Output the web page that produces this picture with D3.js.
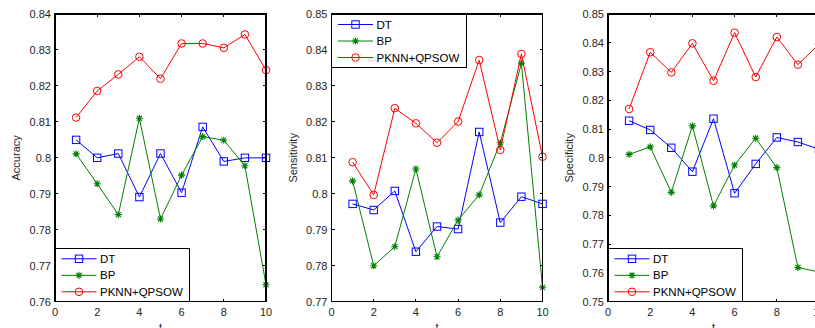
<!DOCTYPE html>
<html>
<head>
<meta charset="utf-8">
<script src="https://cdn.jsdelivr.net/npm/d3@7"></script>
<style>
  html, body { margin: 0; padding: 0; background: #fff; }
  svg { display: block; font-family: "Liberation Sans", Arial, Helvetica, sans-serif; }
</style>
</head>
<body>
<svg id="chart" width="815" height="328"></svg>
<script>
// run index t = 1..10
const runs = [1, 2, 3, 4, 5, 6, 7, 8, 9, 10];
const xTicks = [0, 2, 4, 6, 8, 10];
const seriesNames = ['DT', 'BP', 'PKNN+QPSOW'];

// Accuracy
const accDT   = [0.8050, 0.8000, 0.8012, 0.7891, 0.8012, 0.7903, 0.8086, 0.7990, 0.8000, 0.8000];
const accBP   = [0.8011, 0.7928, 0.7842, 0.8110, 0.7830, 0.7952, 0.8059, 0.8049, 0.7978, 0.7647];
const accPKNN = [0.8112, 0.8186, 0.8232, 0.8281, 0.8220, 0.8318, 0.8318, 0.8306, 0.8343, 0.8244];

// Sensitivity
const senDT   = [0.7972, 0.7955, 0.8008, 0.7839, 0.7909, 0.7902, 0.8172, 0.7920, 0.7992, 0.7972];
const senBP   = [0.8036, 0.7800, 0.7853, 0.8069, 0.7825, 0.7927, 0.7997, 0.8142, 0.8363, 0.7740];
const senPKNN = [0.8088, 0.7997, 0.8238, 0.8196, 0.8142, 0.8201, 0.8372, 0.8122, 0.8389, 0.8103];

// Specificity
const speDT   = [0.8129, 0.8097, 0.8035, 0.7952, 0.8136, 0.7877, 0.7979, 0.8071, 0.8055, 0.8030];
const speBP   = [0.8012, 0.8038, 0.7880, 0.8111, 0.7833, 0.7975, 0.8068, 0.7966, 0.7619, 0.7603];
const spePKNN = [0.8170, 0.8367, 0.8297, 0.8398, 0.8268, 0.8435, 0.8281, 0.8420, 0.8324, 0.8395];

const accTicks = [0.76, 0.77, 0.78, 0.79, 0.8, 0.81, 0.82, 0.83, 0.84];
const senTicks = [0.77, 0.78, 0.79, 0.8, 0.81, 0.82, 0.83, 0.84, 0.85];
const speTicks = [0.75, 0.76, 0.77, 0.78, 0.79, 0.8, 0.81, 0.82, 0.83, 0.84, 0.85];

const colors = { DT: '#0000ff', BP: '#008000', 'PKNN+QPSOW': '#ff0000' };
const markers = { DT: 'square', BP: 'asterisk', 'PKNN+QPSOW': 'circle' };

const svg = d3.select('#chart');
const plotTop = 14, plotBottom = 301.7, plotW = 211;
const fontSize = 11;

function fmt(v) {
  // matlab style: 0.8 not 0.80
  return String(+v.toFixed(2));
}

function drawMarker(g, type, x, y, color) {
  if (type === 'square') {
    g.append('rect')
      .attr('x', x - 3.7).attr('y', y - 3.7)
      .attr('width', 7.4).attr('height', 7.4)
      .attr('fill', 'none').attr('stroke', color).attr('stroke-width', 1);
  } else if (type === 'circle') {
    g.append('circle')
      .attr('cx', x).attr('cy', y).attr('r', 3.8)
      .attr('fill', 'none').attr('stroke', color).attr('stroke-width', 1);
  } else {
    const r = 3.6, d = r * 0.7071;
    g.append('path')
      .attr('d', `M${x - r},${y}L${x + r},${y}M${x},${y - r}L${x},${y + r}` +
                 `M${x - d},${y - d}L${x + d},${y + d}M${x - d},${y + d}L${x + d},${y - d}`)
      .attr('fill', 'none').attr('stroke', color).attr('stroke-width', 1.1);
  }
}

function drawPanel(cfg) {
  const left = cfg.left;
  const x = d3.scaleLinear().domain([0, 10]).range([left, left + plotW]);
  const y = d3.scaleLinear().domain(d3.extent(cfg.yTicks)).range([plotBottom, plotTop]);
  const g = svg.append('g');

  // data lines
  const clip = 'clip' + cfg.id;
  g.append('clipPath').attr('id', clip)
    .append('rect').attr('x', left).attr('y', plotTop - 6).attr('width', plotW + 6).attr('height', plotBottom - plotTop + 12);
  const data = g.append('g').attr('clip-path', `url(#${clip})`);
  const line = d3.line().x((d, i) => x(runs[i])).y(d => y(d));
  seriesNames.forEach((name, k) => {
    const vals = cfg.series[k];
    data.append('path').datum(vals)
      .attr('d', line)
      .attr('fill', 'none').attr('stroke', colors[name]).attr('stroke-width', 1);
    vals.forEach((v, i) => drawMarker(data, markers[name], x(runs[i]), y(v), colors[name]));
  });

  // axes box with inward ticks
  const ax = g.append('g').attr('shape-rendering', 'crispEdges');
  const tl = 3;
  xTicks.forEach(t => {
    ax.append('line').attr('x1', x(t)).attr('x2', x(t)).attr('y1', plotBottom).attr('y2', plotBottom - tl).attr('stroke', '#000');
    ax.append('line').attr('x1', x(t)).attr('x2', x(t)).attr('y1', plotTop).attr('y2', plotTop + tl).attr('stroke', '#000');
  });
  cfg.yTicks.forEach(t => {
    ax.append('line').attr('x1', left).attr('x2', left + tl).attr('y1', y(t)).attr('y2', y(t)).attr('stroke', '#000');
    ax.append('line').attr('x1', left + plotW).attr('x2', left + plotW - tl).attr('y1', y(t)).attr('y2', y(t)).attr('stroke', '#000');
  });

  // tick labels
  const lab = g.append('g').attr('font-size', fontSize).attr('fill', '#262626');
  xTicks.forEach(t => {
    lab.append('text').attr('x', x(t)).attr('y', 316).attr('text-anchor', 'middle').text(t);
  });
  cfg.yTicks.forEach(t => {
    lab.append('text').attr('x', left - 4).attr('y', y(t) + 4).attr('text-anchor', 'end').text(fmt(t));
  });
  lab.append('text')
    .attr('transform', `translate(${left - 35},${(plotTop + plotBottom) / 2}) rotate(-90)`)
    .attr('text-anchor', 'middle').text(cfg.label);
  lab.append('text').attr('x', x(5)).attr('y', 331).attr('text-anchor', 'middle').text('t');

  // legend
  const lw = 134.5, lh = 53.4;
  const ly = cfg.legend === 'top' ? plotTop : plotBottom - lh;
  const lg = g.append('g');
  lg.append('rect').attr('x', left).attr('y', ly).attr('width', lw).attr('height', lh)
    .attr('fill', '#fff').attr('stroke', '#000').attr('stroke-width', 1).attr('shape-rendering', 'crispEdges');
  seriesNames.forEach((name, k) => {
    const yy = ly + 10.5 + k * 16.5;
    lg.append('line').attr('x1', left + 6.5).attr('x2', left + 41.5).attr('y1', yy).attr('y2', yy)
      .attr('stroke', colors[name]).attr('stroke-width', 1);
    drawMarker(lg, markers[name], left + 24, yy, colors[name]);
    lg.append('text').attr('x', left + 45).attr('y', yy + 4)
      .attr('font-size', 11.5).attr('fill', '#000').text(name);
  });

  // box outline on top
  ax.append('rect').attr('x', left).attr('y', plotTop).attr('width', plotW).attr('height', plotBottom - plotTop)
    .attr('fill', 'none').attr('stroke', '#000').attr('stroke-width', 1.2);
}

drawPanel({ id: 1, left: 55, label: 'Accuracy', yTicks: accTicks, series: [accDT, accBP, accPKNN], legend: 'bottom' });
drawPanel({ id: 2, left: 331.5, label: 'Sensitivity', yTicks: senTicks, series: [senDT, senBP, senPKNN], legend: 'top' });
drawPanel({ id: 3, left: 608, label: 'Specificity', yTicks: speTicks, series: [speDT, speBP, spePKNN], legend: 'bottom' });
</script>
</body>
</html>
